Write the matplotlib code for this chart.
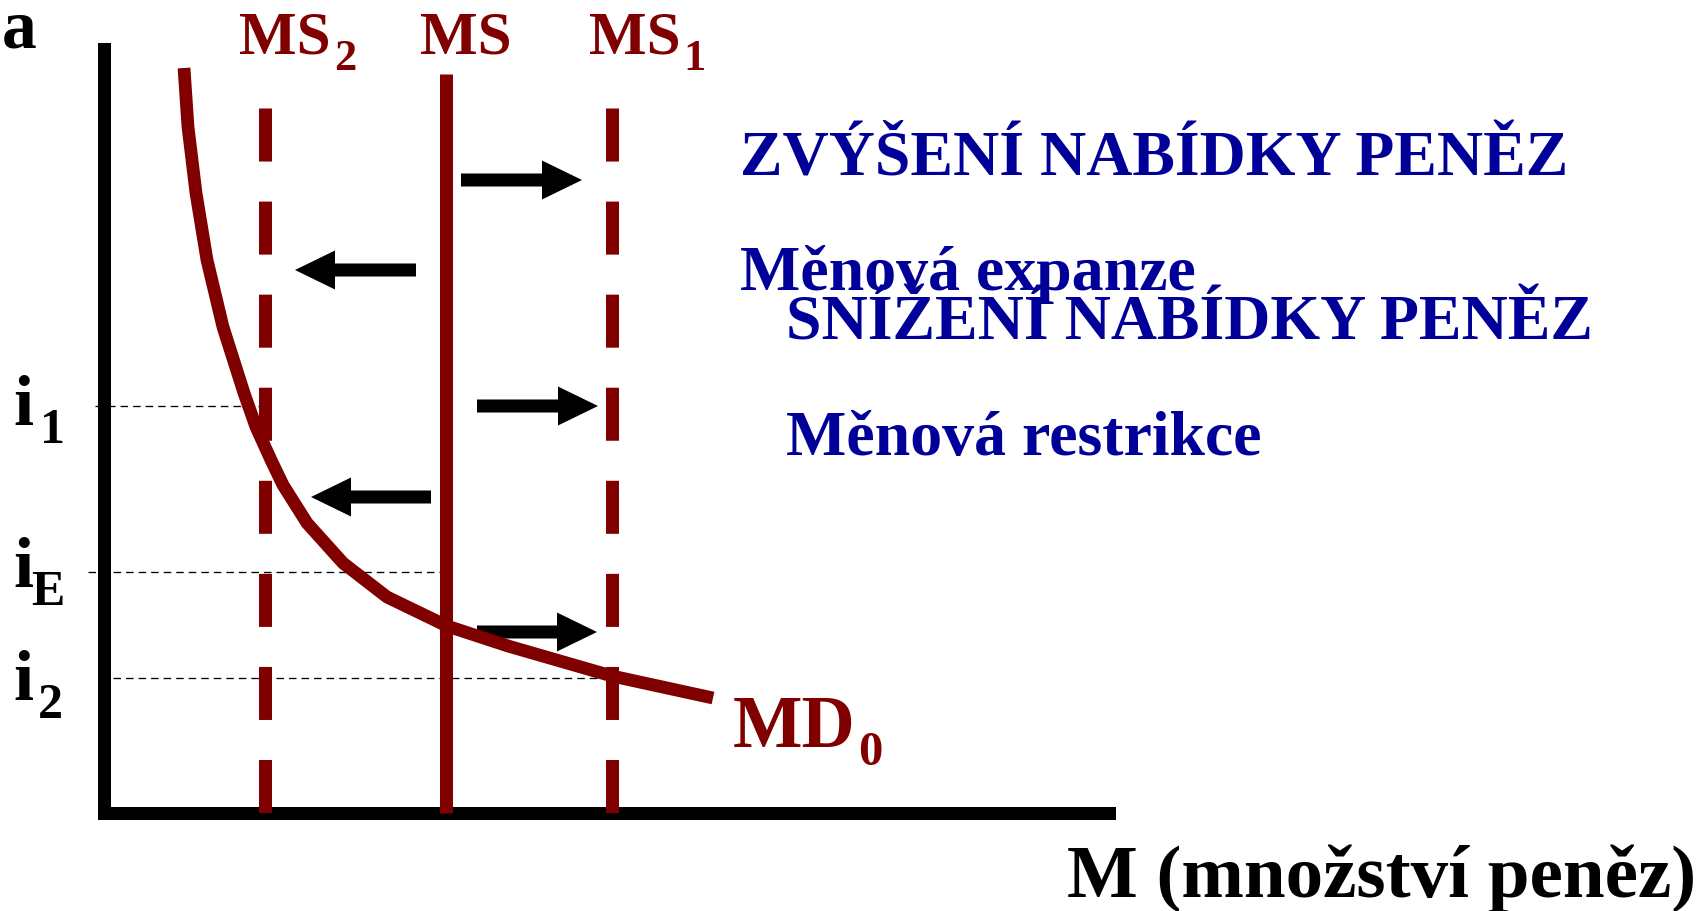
import matplotlib
matplotlib.use('Agg')
import matplotlib.pyplot as plt
from matplotlib.patches import FancyArrow

# money demand curve MD0 (M, i)
md_m = [80, 84, 92, 103, 119, 140, 152, 167, 179, 203, 239, 283, 343, 404, 508, 609]
md_i = [745, 686, 620, 553, 486, 420, 386, 353, 328, 290, 250, 216, 187, 167, 137, 115]

# money supply levels
ms_levels = [161, 342, 508]
ms_label_x = [135, 316, 485]
ms_sub = ['2', '', '1']
ms_sub_x = [230, 0, 579]

# interest rates
rate_sub = ['1', 'E', '2']
rate_levels = [407, 241, 135]
rate_label_y = [388, 226, 113]
rate_sub_x = [-64, -73, -66]
rate_sub_y = [370, 208, 95]
rate_line_start = [-9, -16, 9]
rate_line_end = [161, 336, 508]

# shift arrows: start M, end M, level
arrow_start = [357, 312, 373, 327, 373]
arrow_end = [478, 191, 494, 207, 493]
arrow_level = [633, 543, 407, 316, 181]

notes = ['ZVÝŠENÍ NABÍDKY PENĚZ', 'Měnová expanze', 'SNÍŽENÍ NABÍDKY PENĚZ', 'Měnová restrikce']
notes_x = [636, 636, 682, 682]
notes_y = [638, 523, 473, 358]

RED = '#800000'
BLUE = '#000099'


def main():
    plt.rcParams['font.family'] = ['Liberation Serif', 'DejaVu Serif']
    plt.rcParams['font.weight'] = 'bold'

    fig = plt.figure(figsize=(17.05, 9.11), dpi=100)
    ax = fig.add_axes([0, 0, 1, 1])
    ax.set_xlim(-104, 1601)
    ax.set_ylim(-98, 813)
    ax.axis('off')

    lw_thick = 13 / 1.389

    # axes
    ax.plot([0, 0, 1005], [764, 0, 0], color='black', lw=lw_thick,
            solid_joinstyle='miter', solid_capstyle='projecting')

    # reference levels of interest rate
    for start, end, level in zip(rate_line_start, rate_line_end, rate_levels):
        ax.plot([start, end], [level, level], color='black', lw=0.95,
                dashes=(5.7, 3.8), dash_capstyle='butt')

    # money supply lines
    ax.plot([ms_levels[1], ms_levels[1]], [739, 0], color=RED, lw=lw_thick,
            solid_capstyle='butt')
    for idx in (0, 2):
        ax.plot([ms_levels[idx], ms_levels[idx]], [705, 0], color=RED,
                lw=lw_thick, dashes=(4.08, 3.08), dash_capstyle='butt')

    # money demand
    ax.plot(md_m, md_i, color=RED, lw=9.2, solid_capstyle='butt',
            solid_joinstyle='round')

    for start, end, level in zip(arrow_start, arrow_end, arrow_level):
        ax.add_patch(FancyArrow(start, level, end - start, 0, width=13,
                                head_width=39, head_length=40,
                                length_includes_head=True, color='black', lw=0))

    # labels
    ax.text(-102, 766, 'a', fontsize=50, va='baseline')
    for x, sub, sx in zip(ms_label_x, ms_sub, ms_sub_x):
        ax.text(x, 760, 'MS', fontsize=44, color=RED, va='baseline')
        if sub:
            ax.text(sx, 743, sub, fontsize=32, color=RED, va='baseline')
    for ly, sub, sx, sy in zip(rate_label_y, rate_sub, rate_sub_x, rate_sub_y):
        ax.text(-91, ly, 'i', fontsize=52, va='baseline')
        ax.text(sx, sy, sub, fontsize=36, va='baseline')
    ax.text(629, 66, 'MD', fontsize=53, color=RED, va='baseline')
    ax.text(754, 48, '0', fontsize=35, color=RED, va='baseline')
    for text, x, y in zip(notes, notes_x, notes_y):
        ax.text(x, y, text, fontsize=46, color=BLUE, va='baseline')
    ax.text(1592, -84, 'M (množství peněz)', fontsize=54, ha='right',
            va='baseline')

    fig.savefig('out.png', dpi=100)


if __name__ == '__main__':
    main()
